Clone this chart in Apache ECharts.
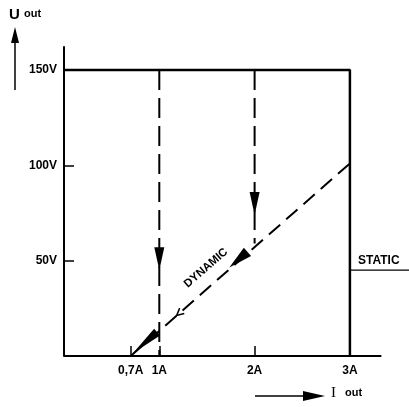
<!DOCTYPE html>
<html>
<head>
<meta charset="utf-8">
<script src="https://cdn.jsdelivr.net/npm/echarts@6/dist/echarts.min.js"></script>
<style>html,body{margin:0;padding:0;background:#fff}#c{width:409px;height:407px}</style>
</head>
<body>
<div id="c"></div>
<script>
// data
var xTickValues = [0.7, 1, 2, 3];
var xTickLabels = ['0,7A', '1A', '2A', '3A'];
var yTickValues = [50, 100, 150];
var yTickLabels = ['50V', '100V', '150V'];
var xAxisLineData = [[0, 0], [3.33, 0]];
var staticLine = [[0, 150], [3, 150], [3, 0]];
var staticMarker = [[3, 45], [3.62, 45]];
var step1A = [[1, 150], [1, 0]];
var step2A = [[2, 150], [2, 59]];
var dynamicLine = [[0.7, 0], [3, 101]];
var downArrows = [[1, 51], [2, 80]];
var dynArrows = [{ value: [1.83, 50.5], symbolSize: [11, 24] }, { value: [0.85, 7], symbolSize: [9, 32] }];
var dynChevron = [[1.21, 22.5]];

var chart = echarts.init(document.getElementById('c'));
var F = '"Liberation Sans", Arial, sans-serif';
var arrowPath = 'path://M0,0 L10,0 L5,30 Z';
chart.setOption({
  backgroundColor: '#fff',
  animation: false,
  grid: { left: 64, top: 47, width: 345.7, height: 309 },
  xAxis: {
    type: 'value', min: 0, max: 3.62,
    splitLine: { show: false },
    axisLine: { show: false },
    axisTick: { show: true, inside: true, length: 10, customValues: xTickValues, lineStyle: { color: '#000', width: 1.5 } },
    axisLabel: {
      customValues: xTickValues, margin: 9, color: '#000', fontFamily: F, fontSize: 12, fontWeight: 'bold',
      formatter: function (v) { var i = xTickValues.indexOf(v); return i >= 0 ? xTickLabels[i] : ''; }
    }
  },
  yAxis: {
    type: 'value', min: 0, max: 162,
    splitLine: { show: false },
    axisLine: { lineStyle: { color: '#000', width: 2 } },
    axisTick: { inside: true, length: 10, customValues: yTickValues, lineStyle: { color: '#000', width: 1.5 } },
    axisLabel: {
      customValues: yTickValues, margin: 7, color: '#000', fontFamily: F, fontSize: 12, fontWeight: 'bold',
      formatter: function (v) { var i = yTickValues.indexOf(v); return i >= 0 ? yTickLabels[i] : ''; }
    }
  },
  series: [
    { type: 'line', data: xAxisLineData, symbol: 'none', clip: false, lineStyle: { color: '#000', width: 2 }, z: 3 },
    { type: 'line', data: staticLine, symbol: 'none', lineStyle: { color: '#000', width: 2.5 }, z: 3 },
    { type: 'line', data: staticMarker, symbol: 'none', lineStyle: { color: '#000', width: 1.2 } },
    { type: 'line', data: step1A, symbol: 'none', lineStyle: { color: '#000', width: 2, type: [20, 8] } },
    { type: 'line', data: step2A, symbol: 'none', lineStyle: { color: '#000', width: 2, type: [20, 8] } },
    { type: 'line', data: dynamicLine, symbol: 'none', lineStyle: { color: '#000', width: 2, type: [15, 8] } },
    { type: 'scatter', data: downArrows, symbol: arrowPath, symbolSize: [10, 23], itemStyle: { color: '#000', opacity: 1 }, z: 5 },
    { type: 'scatter', data: dynArrows, symbol: arrowPath, symbolRotate: -49, itemStyle: { color: '#000', opacity: 1 }, z: 5 },
    { type: 'scatter', data: dynChevron, symbol: 'path://M8,0 L0,4 L8,8', symbolSize: [7, 7], symbolRotate: 41,
      itemStyle: { color: 'none', borderColor: '#000', borderWidth: 1.5, opacity: 1 }, z: 5 }
  ],
  graphic: [
    { type: 'text', left: 9, top: 7, style: { text: 'U', font: 'bold 15px ' + F, fill: '#000' } },
    { type: 'text', left: 24, top: 8, style: { text: 'out', font: 'bold 11px ' + F, fill: '#000' } },
    { type: 'line', shape: { x1: 15, y1: 90, x2: 15, y2: 40 }, style: { stroke: '#000', lineWidth: 1.5 } },
    { type: 'polygon', shape: { points: [[15, 27], [11, 43], [19, 43]] }, style: { fill: '#000' } },
    { type: 'line', shape: { x1: 255, y1: 396, x2: 310, y2: 396 }, style: { stroke: '#000', lineWidth: 1.5 } },
    { type: 'polygon', shape: { points: [[325, 396], [303, 391], [303, 401]] }, style: { fill: '#000' } },
    { type: 'text', left: 331, top: 386, style: { text: 'I', font: '15px "Liberation Serif", serif', fill: '#000' } },
    { type: 'text', left: 345, top: 387, style: { text: 'out', font: 'bold 11px ' + F, fill: '#000' } },
    { type: 'text', left: 358, top: 255, style: { text: 'STATIC', font: 'bold 12px ' + F, fill: '#000' } },
    { type: 'text', x: 206, y: 268, rotation: 41 * Math.PI / 180, style: { text: 'DYNAMIC', font: 'bold 11.5px ' + F, fill: '#000', align: 'center', verticalAlign: 'middle' } }
  ]
});
</script>
</body>
</html>
